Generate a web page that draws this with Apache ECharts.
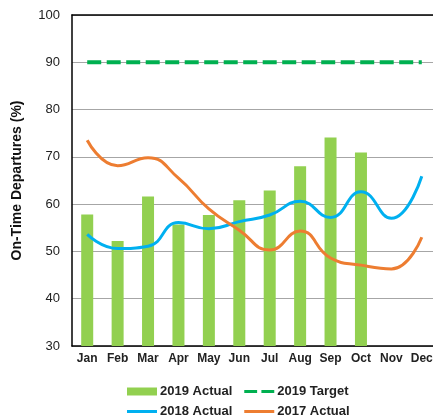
<!DOCTYPE html>
<html>
<head>
<meta charset="utf-8">
<script src="https://cdn.jsdelivr.net/npm/echarts@6/dist/echarts.min.js"></script>
<style>
  html, body { margin: 0; padding: 0; background: #fff; }
  #chart { width: 433px; height: 416px; }
</style>
</head>
<body>
<div id="chart"></div>
<script>
// data
var months = ['Jan', 'Feb', 'Mar', 'Apr', 'May', 'Jun', 'Jul', 'Aug', 'Sep', 'Oct', 'Nov', 'Dec']
var actual2019 = [57.8, 52.2, 61.6, 55.7, 57.7, 60.8, 62.9, 68.0, 74.1, 70.9, null, null]
var target2019 = [90, 90, 90, 90, 90, 90, 90, 90, 90, 90, 90, 90]
var actual2018 = [53.6, 50.6, 51.1, 56.1, 54.8, 56.3, 57.7, 60.6, 57.2, 62.6, 57.0, 65.9]
var actual2017 = [73.5, 68.1, 69.8, 65.5, 59.0, 54.5, 50.3, 54.3, 48.6, 47.1, 46.3, 53.0]

var font = 'Liberation Sans, Arial, sans-serif'
var lineIcon = 'path://M0,0L30,0L30,3L0,3Z'
var dashIcon = 'path://M0,0L12,0L12,3L0,3ZM16,0L28,0L28,3L16,3Z'

var legendText = { fontSize: 13, fontWeight: 'bold', color: '#222', fontFamily: font, padding: [0, 0, 0, -2] }

var chart = echarts.init(document.getElementById('chart'))
chart.setOption({
  animation: false,
  textStyle: { fontFamily: font },
  grid: { left: 72, top: 15, width: 365, bottom: 70, outerBoundsMode: 'none' },
  legend: [
    {
      left: 122,
      top: 380,
      itemWidth: 30,
      itemHeight: 8,
      itemGap: 12,
      textStyle: legendText,
      data: [{ name: '2019 Actual', icon: 'rect' }, { name: '2019 Target', icon: dashIcon }]
    },
    {
      left: 122,
      top: 400,
      itemWidth: 30,
      itemHeight: 8,
      itemGap: 12,
      textStyle: legendText,
      data: [{ name: '2018 Actual', icon: lineIcon }, { name: '2017 Actual', icon: lineIcon }]
    }
  ],
  xAxis: [
    {
      type: 'category',
      data: months,
      axisLine: { lineStyle: { color: '#000', width: 1.5 } },
      axisTick: { show: false },
      axisLabel: { color: '#222', fontSize: 12, fontWeight: 'bold', margin: 7, interval: 0 }
    },
    {
      type: 'category',
      position: 'top',
      data: months,
      axisLine: { lineStyle: { color: '#000', width: 1.5 } },
      axisTick: { show: false },
      axisLabel: { show: false }
    }
  ],
  yAxis: {
    type: 'value',
    min: 30,
    max: 100,
    interval: 10,
    name: 'On-Time Departures (%)',
    nameLocation: 'middle',
    nameGap: 48,
    nameTextStyle: { fontSize: 14, fontWeight: 'bold', color: '#111' },
    axisLine: { show: true, lineStyle: { color: '#000', width: 1.5 } },
    axisTick: { show: false },
    axisLabel: { color: '#222', fontSize: 13, margin: 12 },
    splitLine: { lineStyle: { color: '#a6a6a6', width: 1 } }
  },
  series: [
    {
      name: '2019 Actual',
      type: 'bar',
      data: actual2019,
      barWidth: 12,
      itemStyle: { color: '#92d050' }
    },
    {
      name: '2019 Target',
      type: 'line',
      data: target2019,
      symbol: 'none',
      lineStyle: { color: '#00b050', width: 4, type: [14, 5.5] },
      itemStyle: { color: '#00b050' }
    },
    {
      name: '2018 Actual',
      type: 'line',
      data: actual2018,
      smooth: 0.5,
      symbol: 'none',
      lineStyle: { color: '#00b0f0', width: 3 },
      itemStyle: { color: '#00b0f0' }
    },
    {
      name: '2017 Actual',
      type: 'line',
      data: actual2017,
      smooth: 0.5,
      symbol: 'none',
      lineStyle: { color: '#ed7d31', width: 3 },
      itemStyle: { color: '#ed7d31' }
    }
  ]
})
</script>
</body>
</html>
